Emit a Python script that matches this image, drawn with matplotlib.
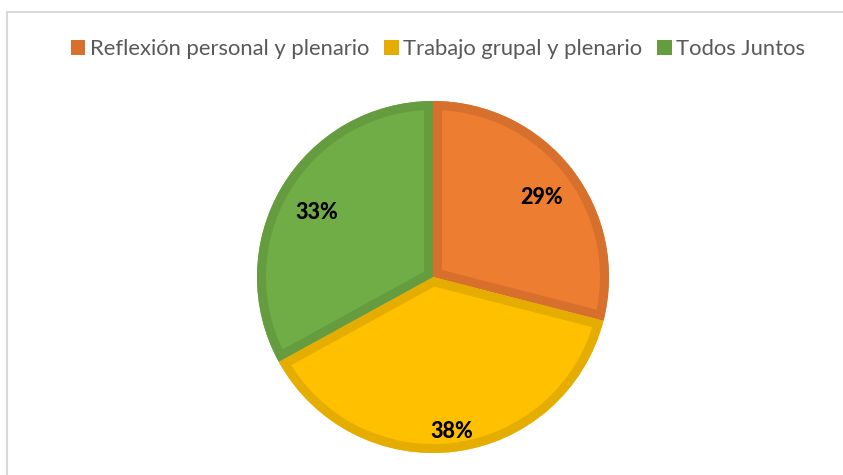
import matplotlib
matplotlib.use("Agg")
import matplotlib.pyplot as plt
import matplotlib.patches as mpatches
from matplotlib.lines import Line2D
import numpy as np

categories = ["Reflexión personal y plenario", "Trabajo grupal y plenario", "Todos Juntos"]
values = [29, 38, 33]
pct_labels = ["29%", "38%", "33%"]

fill_colors = ["#ED7D31", "#FFC000", "#70AD47"]
edge_colors = ["#D6702C", "#E5AD00", "#659C40"]
label_dist = [0.78, 0.86, 0.77]

W, H = 843, 475
fig = plt.figure(figsize=(W / 100, H / 100), dpi=100)
fig.patch.set_facecolor("white")

# border (top and left visible)
fig.add_artist(Line2D([7 / W, 1.0], [1 - 12 / H, 1 - 12 / H], color="#D9D9D9", lw=1.5, transform=fig.transFigure))
fig.add_artist(Line2D([7 / W, 7 / W], [0, 1 - 12 / H], color="#D9D9D9", lw=1.5, transform=fig.transFigure))

cx, cy, r = 433, 277, 176
ax = fig.add_axes([(cx - r) / W, (H - cy - r) / H, 2 * r / W, 2 * r / H])

wedges, _ = ax.pie(values, colors=fill_colors, startangle=90, counterclock=False,
                   radius=1, wedgeprops=dict(linewidth=0))
ax.set_xlim(-1, 1)
ax.set_ylim(-1, 1)
ax.axis("off")

stroke_px = 9
for w, ec in zip(wedges, edge_colors):
    e = mpatches.Wedge(w.center, w.r, w.theta1, w.theta2, fill=False,
                       edgecolor=ec, linewidth=2 * stroke_px * 0.72, joinstyle="miter")
    ax.add_patch(e)
    e.set_clip_path(w)

for w, lab, d in zip(wedges, pct_labels, label_dist):
    ang = np.deg2rad((w.theta1 + w.theta2) / 2)
    ax.text(d * np.cos(ang), d * np.sin(ang) - 0.025, lab, ha="center", va="center",
            fontsize=15.5, fontweight="black", color="black", family="Lato")

handles = [mpatches.Rectangle((0, 0), 1, 1, facecolor=ec, edgecolor="none") for ec in edge_colors]
leg = fig.legend(handles, categories, loc="center", bbox_to_anchor=(438 / W, 1 - 49 / H),
                 ncol=3, frameon=False, prop=dict(family="Lato", size=15.8),
                 handlelength=0.65, handleheight=0.65, handletextpad=0.2, columnspacing=0.7,
                 labelcolor="#595959")

fig.savefig("out.png", dpi=100, facecolor="white")
